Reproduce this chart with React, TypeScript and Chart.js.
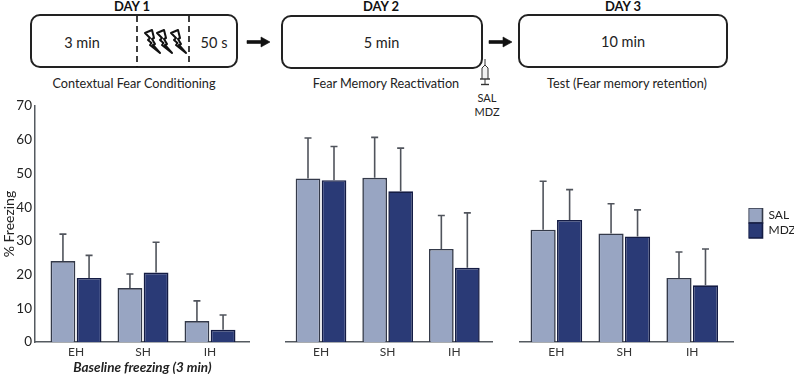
import React, { useEffect, useRef } from "react";
import { Chart, registerables } from "chart.js";

Chart.register(...registerables);

const FONT = "Lato, 'Open Sans', sans-serif";
const groupPositions = [1, 2, 3];
const groupLabels = ["EH", "SH", "IH"];
const seriesNames = ["SAL", "MDZ"];
const yTicks = [0, 10, 20, 30, 40, 50, 60, 70];

const salDay1 = [24, 16, 6.2];
const mdzDay1 = [19, 20.6, 3.6];
const salTopDay1 = [32, 20.2, 12.2];
const mdzTopDay1 = [25.7, 29.6, 8];

const salDay2 = [48.5, 48.7, 27.6];
const mdzDay2 = [48, 44.7, 22];
const salTopDay2 = [60.5, 60.7, 37.5];
const mdzTopDay2 = [58, 57.5, 38.3];

const salDay3 = [33.3, 32.2, 19];
const mdzDay3 = [36.2, 31.3, 16.8];
const salTopDay3 = [47.7, 41, 26.7];
const mdzTopDay3 = [45.2, 39.2, 27.6];

const SAL_FILL = "#98a5c2";
const SAL_EDGE = "#343a4a";
const MDZ_FILL = "#2a3a76";
const MDZ_EDGE = "#141c44";
const AXIS = "#555a60";
const TEXT = "#222";

const errorBars = {
  id: "errorBars",
  afterDatasetsDraw(chart: any) {
    const { ctx, scales } = chart;
    chart.data.datasets.forEach((ds: any, i: number) => {
      chart.getDatasetMeta(i).data.forEach((bar: any, j: number) => {
        const top = scales.y.getPixelForValue(ds.errTop[j]);
        ctx.save();
        ctx.strokeStyle = "#50545c";
        ctx.lineWidth = 1.6;
        ctx.beginPath();
        ctx.moveTo(bar.x, bar.y);
        ctx.lineTo(bar.x, top);
        ctx.moveTo(bar.x - 3.5, top);
        ctx.lineTo(bar.x + 3.5, top);
        ctx.stroke();
        ctx.restore();
      });
    });
  },
};

const legendPlacer = {
  id: "legendPlacer",
  beforeLayout(chart: any) {
    const legend = chart.legend;
    if (!legend || legend.__wrapped) return;
    const fit = legend.fit;
    legend.fit = function () {
      fit.call(this);
      this.width = 61;
    };
    legend.__wrapped = true;
  },
  beforeDraw(chart: any) {
    const legend = chart.legend;
    if (!legend) return;
    const w = legend.width;
    const h = legend.height;
    legend.left = 229.5;
    legend.right = 229.5 + w;
    legend.top = 108;
    legend.bottom = 108 + h;
  },
};

type PanelProps = {
  left: number;
  top: number;
  padTop: number;
  width: number;
  xMin: number;
  xMax: number;
  sal: number[];
  mdz: number[];
  salTop: number[];
  mdzTop: number[];
  showY?: boolean;
  showLegend?: boolean;
  xTitle?: string;
  yTitle?: string;
  yWidth?: number;
};

function Panel(p: PanelProps) {
  const ref = useRef<HTMLCanvasElement>(null);
  const height = 377 - p.top;
  useEffect(() => {
    const chart = new Chart(ref.current as HTMLCanvasElement, {
      type: "bar",
      data: {
        datasets: [
          {
            label: seriesNames[0],
            data: groupPositions.map((x, i) => ({ x, y: p.sal[i] })),
            errTop: p.salTop,
            backgroundColor: SAL_FILL,
            borderColor: SAL_EDGE,
            borderWidth: 1.6,
            categoryPercentage: 0.78,
            barPercentage: 0.95,
          },
          {
            label: seriesNames[1],
            data: groupPositions.map((x, i) => ({ x, y: p.mdz[i] })),
            errTop: p.mdzTop,
            backgroundColor: MDZ_FILL,
            borderColor: MDZ_EDGE,
            borderWidth: 1.6,
            categoryPercentage: 0.78,
            barPercentage: 0.95,
          },
        ] as any,
      },
      options: {
        responsive: false,
        animation: false,
        layout: { padding: { top: p.padTop, left: 0, right: 0, bottom: 0 } },
        plugins: {
          tooltip: { enabled: false },
          legend: {
            display: !!p.showLegend,
            position: "right",
            align: "start",
            labels: {
              boxWidth: 14,
              boxHeight: 15,
              padding: 0,
              color: TEXT,
              font: { family: FONT, size: 12 },
            },
          } as any,
        },
        scales: {
          x: {
            type: "linear",
            min: p.xMin,
            max: p.xMax,
            offset: false,
            afterFit: (s: any) => {
              s.height = 35;
            },
            grid: { display: false, drawTicks: false },
            border: { color: AXIS, width: 1.5 },
            ticks: {
              stepSize: 1,
              includeBounds: false,
              padding: 3,
              maxRotation: 0,
              color: "#333",
              font: { family: FONT, size: 12 },
              callback: (v: any) => groupLabels[groupPositions.indexOf(Number(v))] ?? "",
            },
            title: {
              display: !!p.xTitle,
              text: p.xTitle ?? "",
              color: TEXT,
              padding: { top: 2, bottom: 1 },
              font: { family: FONT, size: 13.5, style: "italic", weight: "bold" },
            },
          },
          y: {
            display: !!p.showY,
            min: 0,
            max: 70,
            afterFit: (s: any) => {
              s.width = p.yWidth ?? 0;
            },
            afterBuildTicks: (s: any) => {
              s.ticks = yTicks.map((value) => ({ value }));
            },
            grid: { display: false, tickLength: 3, tickColor: AXIS, tickWidth: 1 } as any,
            border: { color: AXIS, width: 1.5 },
            ticks: {
              padding: 0,
              color: TEXT,
              font: { family: FONT, size: 13.5 },
            },
            title: {
              display: !!p.yTitle,
              text: p.yTitle ?? "",
              color: TEXT,
              padding: { top: 1, bottom: 0 },
              font: { family: FONT, size: 14 },
            },
          },
        },
      } as any,
      plugins: p.showLegend ? [errorBars, legendPlacer] : [errorBars],
    });
    return () => chart.destroy();
  }, []);
  return (
    <canvas
      ref={ref}
      width={p.width}
      height={height}
      style={{ position: "absolute", left: p.left, top: p.top, width: p.width, height, display: "block" }}
    />
  );
}

function Bolt({ dx }: { dx: number }) {
  const pts = "0,3 7,0 9,8 7,9 10,14 8,15 15,23 5,15 6.5,13 3,10 5,8";
  return <polygon points={pts} transform={`translate(${145 + dx} 30)`} fill="#fff" stroke="#111" strokeWidth="2" strokeLinejoin="round" />;
}

function Arrow({ x }: { x: number }) {
  return <polygon points={`${x},40.5 ${x + 14},40.5 ${x + 14},37 ${x + 23},42 ${x + 14},47 ${x + 14},43.5 ${x},43.5`} fill="#111" stroke="#111" strokeWidth="0.6" />;
}

function Schematic() {
  const caption = { fontFamily: FONT, fontSize: 12.7, fill: TEXT, textAnchor: "middle" } as const;
  const inner = { fontFamily: FONT, fontSize: 14.5, fill: TEXT, textAnchor: "middle" } as const;
  const day = { fontFamily: FONT, fontSize: 13, fontWeight: 700, fill: "#111", textAnchor: "middle" } as const;
  return (
    <svg width={794} height={130} style={{ position: "absolute", left: 0, top: 0, display: "block" }}>
      <text x={132} y={11} {...day}>DAY 1</text>
      <text x={381} y={11} {...day}>DAY 2</text>
      <text x={623} y={11} {...day}>DAY 3</text>
      <rect x={31} y={15} width={206} height={52} rx={9} fill="#fff" stroke="#222" strokeWidth={2} />
      <rect x={282} y={16} width={200} height={52} rx={9} fill="#fff" stroke="#222" strokeWidth={2} />
      <rect x={519} y={15} width={208} height={52} rx={9} fill="#fff" stroke="#222" strokeWidth={2} />
      <line x1={137} y1={16} x2={137} y2={67} stroke="#111" strokeWidth={1.6} strokeDasharray="6 4" />
      <line x1={189} y1={16} x2={189} y2={67} stroke="#111" strokeWidth={1.6} strokeDasharray="6 4" />
      <Bolt dx={0} />
      <Bolt dx={12} />
      <Bolt dx={26} />
      <text x={82} y={48} {...inner}>3 min</text>
      <text x={214} y={48} {...inner}>50 s</text>
      <text x={381.5} y={48} {...inner}>5 min</text>
      <text x={623} y={47} {...inner}>10 min</text>
      <Arrow x={247} />
      <Arrow x={489} />
      <text x={134} y={88} {...caption}>Contextual Fear Conditioning</text>
      <text x={386} y={88} {...caption}>Fear Memory Reactivation</text>
      <text x={627} y={88} {...caption}>Test (Fear memory retention)</text>
      <g stroke="#333" strokeWidth={1} fill="none">
        <line x1={485} y1={59} x2={485} y2={65} />
        <path d="M482 79 V68 L485 65 L488 68 V79" fill="#f2f2f2" />
        <line x1={480} y1={79} x2={490} y2={79} strokeWidth={1.4} />
        <line x1={485} y1={79} x2={485} y2={85} />
        <line x1={481} y1={84.5} x2={489} y2={84.5} strokeWidth={1.4} />
      </g>
      <text x={487} y={102} fontFamily={FONT} fontSize={11} fill={TEXT} textAnchor="middle">SAL</text>
      <text x={487} y={116} fontFamily={FONT} fontSize={11} fill={TEXT} textAnchor="middle">MDZ</text>
    </svg>
  );
}

export default function App() {
  return (
    <div style={{ position: "absolute", left: 0, top: 0, width: 794, height: 377, overflow: "hidden", background: "#fff" }}>
      <Schematic />
      <Panel left={0} top={98} padTop={0} width={250} xMin={0.388} xMax={3.597} sal={salDay1} mdz={mdzDay1} salTop={salTopDay1} mdzTop={mdzTopDay1} showY yWidth={35} xTitle="Baseline freezing (3 min)" yTitle="% Freezing" />
      <Panel left={285} top={100} padTop={6} width={208} xMin={0.46} xMax={3.58} sal={salDay2} mdz={mdzDay2} salTop={salTopDay2} mdzTop={mdzTopDay2} />
      <Panel left={519} top={100} padTop={6} width={275} xMin={0.45} xMax={3.6} sal={salDay3} mdz={mdzDay3} salTop={salTopDay3} mdzTop={mdzTopDay3} showLegend />
    </div>
  );
}
